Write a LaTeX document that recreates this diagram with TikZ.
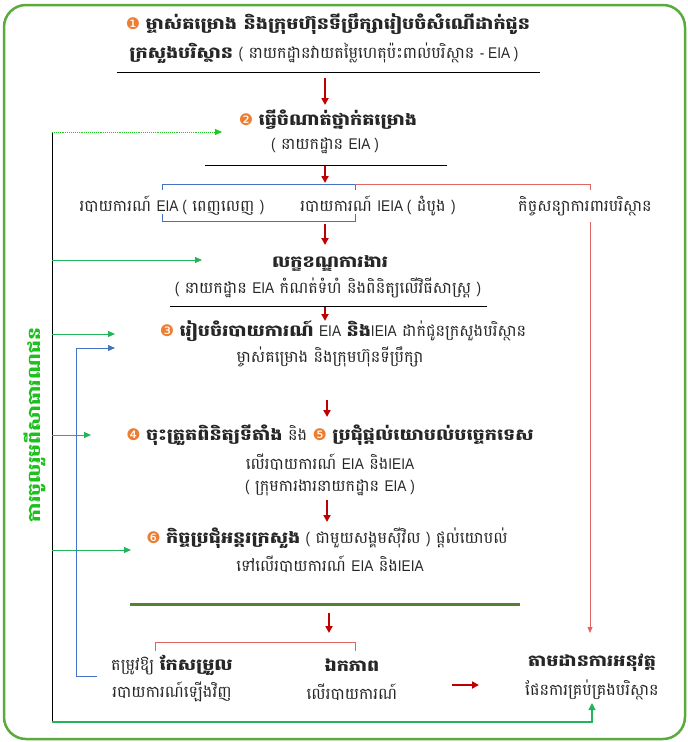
\documentclass[tikz,border=0pt]{standalone}
\usepackage{fontspec}
\usetikzlibrary{arrows.meta}
\setmainfont[Script=Khmer, BoldFeatures={FakeStretch=1.2}]{Battambang}
\newfontfamily\dv{DejaVu Sans}
\newfontfamily\ls{Liberation Sans}[FakeStretch=0.88]
\newcommand{\la}[1]{{\ls\fontsize{15.5}{16}\selectfont #1}}
\definecolor{frame}{HTML}{5BAA3C}
\definecolor{darkred}{HTML}{C00000}
\definecolor{lred}{HTML}{E06666}
\definecolor{gArrow}{HTML}{22B45A}
\definecolor{gDot}{HTML}{1EC81E}
\definecolor{bl}{HTML}{4472C4}
\definecolor{olive}{HTML}{548235}
\definecolor{numor}{HTML}{ED7D31}
\definecolor{vtext}{HTML}{1EC01E}
\newcommand{\nm}[1]{{\dv\fontsize{16}{16}\selectfont\color{numor}#1}}
\tikzset{
  txt/.style={inner sep=0pt, font=\fontsize{16}{18}\selectfont, text=black!85},
  redarr/.style={-{Triangle[width=7pt,length=7pt]}, darkred, line width=2pt},
  garr/.style={-{Triangle[width=6pt,length=7pt]}, gArrow, line width=1pt},
  barr/.style={-{Triangle[width=6pt,length=7pt]}, bl, line width=1pt},
  rule/.style={black, line width=0.8pt}
}
\begin{document}
\begin{tikzpicture}[x=1pt,y=-1pt]
\useasboundingbox (0,0) rectangle (688,742);
\draw[frame, line width=2.5pt, rounded corners=22pt] (4,5) rectangle (685,739);

% step 1
\node[txt] (t1a) at (328,24) {\nm{❶} \textbf{ម្ចាស់គម្រោង និងក្រុមហ៊ុនទីប្រឹក្សារៀបចំសំណើដាក់ជូន}};
\node[txt] (t1b) at (324,53) {\textbf{ក្រសួងបរិស្ថាន} \la{(} នាយកដ្ឋានវាយតម្លៃហេតុប៉ះពាល់បរិស្ថាន \la{- EIA )}};
\draw[rule] (117,72) -- (540,72);
\coordinate (a1s) at (325,78);
\coordinate (a1e) at (325,105);
\draw[redarr] (a1s) -- (a1e);

% step 2
\node[txt] (t2a) at (328,120) {\nm{❷} \textbf{ធ្វើចំណាត់ថ្នាក់គម្រោង}};
\node[txt] (t2b) at (325,146) {\la{(} នាយកដ្ឋាន \la{EIA )}};
\draw[rule] (205,165) -- (447,165);
\coordinate (a2s) at (325,166);
\coordinate (a2e) at (325,183);
\draw[redarr] (a2s) -- (a2e);

% brackets
\draw[bl, line width=0.9pt] (162,190) -- (162,184) -- (355,184) -- (355,190);
\draw[bl, line width=0.9pt] (162,214) -- (162,221) -- (355,221) -- (355,214);
\draw[lred, line width=0.9pt] (355,184) -- (590,184) -- (590,190);

\node[txt] (r1) at (172,206) {របាយការណ៍ \la{EIA (} ពេញលេញ \la{)}};
\node[txt] (r2) at (378,206) {របាយការណ៍ \la{IEIA (} ដំបូង \la{)}};
\node[txt] (r3) at (585,206) {កិច្ចសន្យាការពារបរិស្ថាន};

\coordinate (a3s) at (325,224);
\coordinate (a3e) at (325,245);
\draw[redarr] (a3s) -- (a3e);

% ToR
\node[txt] (t3a) at (330,263) {\textbf{លក្ខខណ្ឌការងារ}};
\node[txt] (t3b) at (328,288) {\la{(} នាយកដ្ឋាន \la{EIA} កំណត់ទំហំ និងពិនិត្យលើវិធីសាស្ត្រ \la{)}};
\draw[rule] (170,306) -- (487,306);
\coordinate (a4s) at (325,307);
\coordinate (a4e) at (325,321);
\draw[redarr] (a4s) -- (a4e);

% step 3
\node[txt] (t4a) at (343,331) {\nm{❸} \textbf{រៀបចំរបាយការណ៍} \la{EIA} \textbf{និង}\la{IEIA} ដាក់ជូនក្រសួងបរិស្ថាន};
\node[txt] (t4b) at (330,357) {ម្ចាស់គម្រោង និងក្រុមហ៊ុនទីប្រឹក្សា};
\coordinate (a5s) at (327,400);
\coordinate (a5e) at (327,417);
\draw[redarr] (a5s) -- (a5e);

% step 4/5
\node[txt] (t5a) at (330,435) {\nm{❹} \textbf{ចុះត្រួតពិនិត្យទីតាំង} និង \nm{❺} \textbf{ប្រជុំផ្តល់យោបល់បច្ចេកទេស}};
\node[txt] (t5b) at (330,462) {លើរបាយការណ៍ \la{EIA} និង\la{IEIA}};
\node[txt] (t5c) at (330,488) {\la{(} ក្រុមការងារនាយកដ្ឋាន \la{EIA )}};
\coordinate (a6s) at (327,500);
\coordinate (a6e) at (327,522);
\draw[redarr] (a6s) -- (a6e);

% step 6
\node[txt] (t6a) at (327,538) {\nm{❻} \textbf{កិច្ចប្រជុំអន្តរក្រសួង} \la{(} ជាមួយសង្គមស៊ីវិល \la{)} ផ្តល់យោបល់};
\node[txt] (t6b) at (330,564) {ទៅលើរបាយការណ៍ \la{EIA} និង\la{IEIA}};

\draw[olive, line width=3pt] (130,604) -- (520,604);
\coordinate (a7s) at (329,613);
\coordinate (a7e) at (329,633);
\draw[redarr] (a7s) -- (a7e);

\draw[lred, line width=0.9pt] (155,651) -- (155,642) -- (355,642) -- (355,651);

% outcomes
\node[txt] (b1a) at (172,665) {តម្រូវឱ្យ \textbf{កែសម្រួល}};
\node[txt] (b1b) at (172,692) {របាយការណ៍ឡើងវិញ};
\node[txt] (b2a) at (352,665) {\textbf{ឯកភាព}};
\node[txt] (b2b) at (352,692) {លើរបាយការណ៍};
\node[txt] (b3a) at (592,663) {\textbf{តាមដានការអនុវត្ត}};
\node[txt] (b3b) at (592,690) {ផែនការគ្រប់គ្រងបរិស្ថាន};
\coordinate (a8s) at (452,685);
\coordinate (a8e) at (479,685);
\draw[redarr, line width=2.5pt] (a8s) -- (a8e);

% right red line
\coordinate (rv1) at (590,222);
\coordinate (rv2) at (590,633);
\draw[lred, line width=0.9pt, -{Triangle[width=5pt,length=6pt]}] (rv1) -- (rv2);

% public participation
\coordinate (pTop) at (52,132);
\coordinate (pBot) at (52,722);
\draw[black, line width=0.9pt] (pTop) -- (pBot);
\coordinate (d1) at (222,132);
\draw[gDot, line width=0.9pt, densely dotted, -{Triangle[width=6pt,length=7pt]}] (pTop) -- (d1);
\coordinate (g1s) at (52,260); \coordinate (g1e) at (202,260);
\coordinate (g2s) at (52,334); \coordinate (g2e) at (115,334);
\coordinate (g3s) at (52,435); \coordinate (g3e) at (91,435);
\coordinate (g4s) at (52,550); \coordinate (g4e) at (131,550);
\draw[garr] (g1s) -- (g1e);
\draw[garr] (g2s) -- (g2e);
\draw[garr] (g3s) -- (g3e);
\draw[garr] (g4s) -- (g4e);
\coordinate (bS) at (97,676);
\coordinate (bE) at (115,348);
\draw[barr] (bS) -- (76,676) -- (76,348) -- (bE);
\coordinate (gb) at (592,703);
\draw[gArrow, line width=1.2pt, -{Triangle[width=7pt,length=7pt]}] (pBot) -- (592,722) -- (gb);

\node[inner sep=0pt, rotate=90, text=vtext, font=\fontsize{17}{19}\selectfont\bfseries] (vt) at (35,425) {ការចូលរួមពីសាធារណជន};
\end{tikzpicture}
\end{document}
